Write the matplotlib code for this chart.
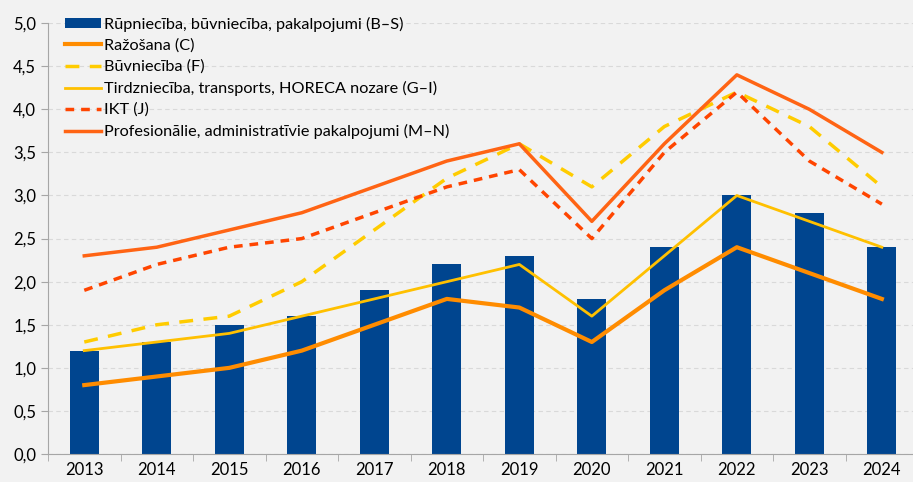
import numpy as np
import matplotlib
matplotlib.use("Agg")
import matplotlib.pyplot as plt
from matplotlib.ticker import FuncFormatter, MultipleLocator, FixedLocator

# dati
years = ["2013", "2014", "2015", "2016", "2017", "2018", "2019", "2020", "2021", "2022", "2023", "2024"]
bs = [1.2, 1.3, 1.5, 1.6, 1.9, 2.2, 2.3, 1.8, 2.4, 3.0, 2.8, 2.4]
razosana = [0.8, 0.9, 1.0, 1.2, 1.5, 1.8, 1.7, 1.3, 1.9, 2.4, 2.1, 1.8]
buvnieciba = [1.3, 1.5, 1.6, 2.0, 2.6, 3.2, 3.6, 3.1, 3.8, 4.2, 3.8, 3.1]
tirdznieciba = [1.2, 1.3, 1.4, 1.6, 1.8, 2.0, 2.2, 1.6, 2.3, 3.0, 2.7, 2.4]
ikt = [1.9, 2.2, 2.4, 2.5, 2.8, 3.1, 3.3, 2.5, 3.5, 4.2, 3.4, 2.9]
prof = [2.3, 2.4, 2.6, 2.8, 3.1, 3.4, 3.6, 2.7, 3.6, 4.4, 4.0, 3.5]

plt.rcParams['font.family'] = ['Lato', 'DejaVu Sans']

bg = '#F2F2F2'
fig = plt.figure(figsize=(9.13, 4.82), dpi=100, facecolor=bg)
ax = fig.add_axes([0.0526, 0.058, 0.953, 0.894], facecolor=bg)

x = np.arange(len(years))
bars = ax.bar(x, bs, width=0.4, color='#00458F', label='Rūpniecība, būvniecība, pakalpojumi (B–S)', zorder=2)
l1, = ax.plot(x, razosana, color='#FF8C00', lw=3, label='Ražošana (C)', zorder=3)
l2, = ax.plot(x, buvnieciba, color='#FFCC00', lw=2.5, ls=(0, (4, 3)), label='Būvniecība (F)', zorder=3)
l3, = ax.plot(x, tirdznieciba, color='#FFC000', lw=2, label='Tirdzniecība, transports, HORECA nozare (G–I)', zorder=3)
l4, = ax.plot(x, ikt, color='#FF4500', lw=2.5, ls=(0, (2.5, 2)), label='IKT (J)', zorder=3)
l5, = ax.plot(x, prof, color='#FF6414', lw=2.5, label='Profesionālie, administratīvie pakalpojumi (M–N)', zorder=4)

ax.set_xlim(-0.5, len(years) - 0.5)
ax.set_ylim(0, 5)
ax.yaxis.set_major_locator(MultipleLocator(0.5))
ax.yaxis.set_major_formatter(FuncFormatter(lambda v, p: f"{v:.1f}".replace('.', ',')))
ax.grid(axis='y', color='#D9D9D9', ls=(0, (4, 3)), lw=0.8, zorder=0)

ax.set_xticks(x)
ax.set_xticklabels(years)
ax.xaxis.set_minor_locator(FixedLocator(np.arange(-0.5, len(years), 1.0)))
ax.tick_params(axis='x', which='major', length=0, labelsize=12, pad=6)
ax.tick_params(axis='x', which='minor', length=5, color='#A6A6A6', direction='out')
ax.tick_params(axis='y', length=5, color='#A6A6A6', labelsize=12)

for s in ['top', 'right']:
    ax.spines[s].set_visible(False)
ax.spines['left'].set_color('#A6A6A6')
ax.spines['bottom'].set_color('#A6A6A6')

handles = [bars, l1, l2, l3, l4, l5]
ax.legend(handles=handles, labels=[h.get_label() for h in handles],
          loc='upper left', bbox_to_anchor=(0.012, 1.03), frameon=False, fontsize=11.7,
          handlelength=2.2, handleheight=0.6, handletextpad=0.2, labelspacing=0.42, borderaxespad=0)

fig.savefig('out.png', dpi=100, facecolor=bg)
